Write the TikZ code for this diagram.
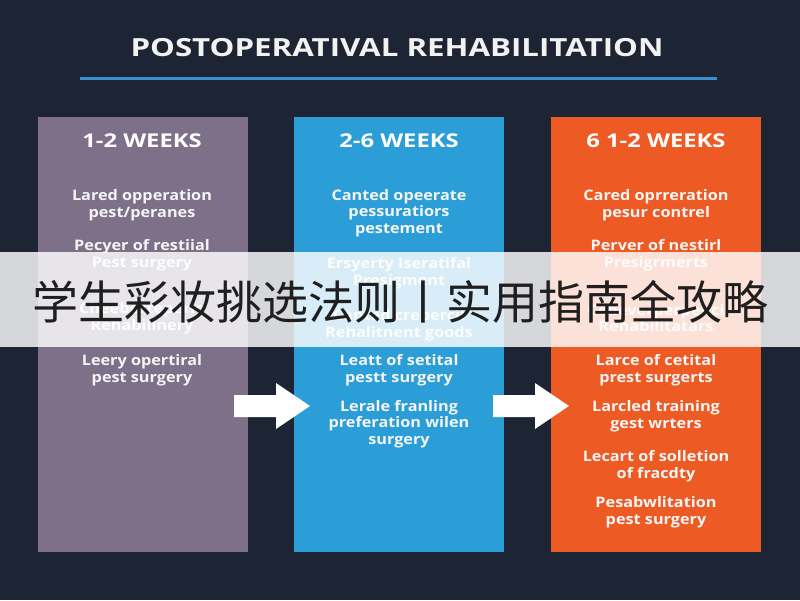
\documentclass[tikz,border=0pt]{standalone}
\usepackage{fontspec}
\setmainfont{Open Sans}
\newfontfamily\cjk{Noto Sans CJK SC}
\usetikzlibrary{calc}
\definecolor{bg}{HTML}{1D2433}
\definecolor{cpurple}{HTML}{7E7088}
\definecolor{cblue}{HTML}{2B9ED8}
\definecolor{corange}{HTML}{EE5A24}
\definecolor{tblue}{HTML}{3A8FD0}
\begin{document}
\begin{tikzpicture}[x=1pt,y=-1pt,
  col/.style={draw=none,minimum width=210pt,minimum height=435pt,anchor=north west,inner sep=0},
  head/.style={font=\fontsize{19}{22}\selectfont\bfseries,text=white,xscale=1.25,transform shape},
  item/.style={font=\fontsize{14.5}{16.5}\selectfont\bfseries,text=white!92!gray,align=center,xscale=1.12,transform shape}]
\fill[bg] (0,0) rectangle (800,600);
\useasboundingbox (0,0) rectangle (800,600);
\node[font=\fontsize{25}{28}\selectfont\bfseries,text=white!90!gray,xscale=1.25,transform shape] (title) at (397,48) {POSTOPERATIVAL REHABILITATION};
\draw[tblue,line width=3pt] (80,78) -- (717,78);
\node[col,fill=cpurple] (c1) at (38,117) {};
\node[col,fill=cblue] (c2) at (294,117) {};
\node[col,fill=corange] (c3) at (551,117) {};
\node[head] (h1) at (142,141) {1-2 WEEKS};
\node[head] (h2) at (399,141) {2-6 WEEKS};
\node[head] (h3) at (656,141) {6 1-2 WEEKS};
% column 1
\node[item] (a1) at (142,205) {Lared opperation\\pest/peranes};
\node[item] (a2) at (142,255) {Pecyer of restiial\\Pest surgery};
\node[item] (a3) at (142,318) {Cheeberteperie\\Rehabilinery};
\node[item] (a4) at (142,370) {Leery opertiral\\pest surgery};
% column 2
\node[item] (b1) at (399,213) {Canted opeerate\\pessuratiors\\pestement};
\node[item] (b2) at (399,273) {Ersyerty Iseratifal\\Presigment};
\node[item] (b3) at (399,325) {Canted crepercil\\Rehalitnent goods};
\node[item] (b4) at (399,370) {Leatt of setital\\pestt surgery};
\node[item] (b5) at (399,424) {Lerale franling\\preferation wilen\\surgery};
% column 3
\node[item] (d1) at (656,205) {Cared oprreration\\pesur contrel};
\node[item] (d2) at (656,255) {Perver of nestirl\\Presigrmerts};
\node[item] (d3) at (656,318) {Ceneverperpeuci\\Rehabilitatars};
\node[item] (d4) at (656,370) {Larce of cetital\\prest surgerts};
\node[item] (d5) at (656,416) {Larcled training\\gest wrters};
\node[item] (d6) at (656,466) {Lecart of solletion\\of fracdty};
\node[item] (d7) at (656,512) {Pesabwlitation\\pest surgery};
% arrows
\coordinate (r1) at (234,406);
\coordinate (r2) at (493,406);
\foreach \r in {r1,r2}
  \fill[white] ($(\r)+(0,-11)$) -- ++(42,0) -- ++(0,-12) -- ++(34,23) -- ++(-34,23) -- ++(0,-12) -- ++(-42,0) -- cycle;
% overlay band
\fill[white,opacity=0.82] (0,252) rectangle (800,347);
\node[font=\cjk\fontsize{46}{50}\selectfont,text=black!88] (cn) at (400,302) {学生彩妆挑选法则丨实用指南全攻略};
\end{tikzpicture}
\end{document}
